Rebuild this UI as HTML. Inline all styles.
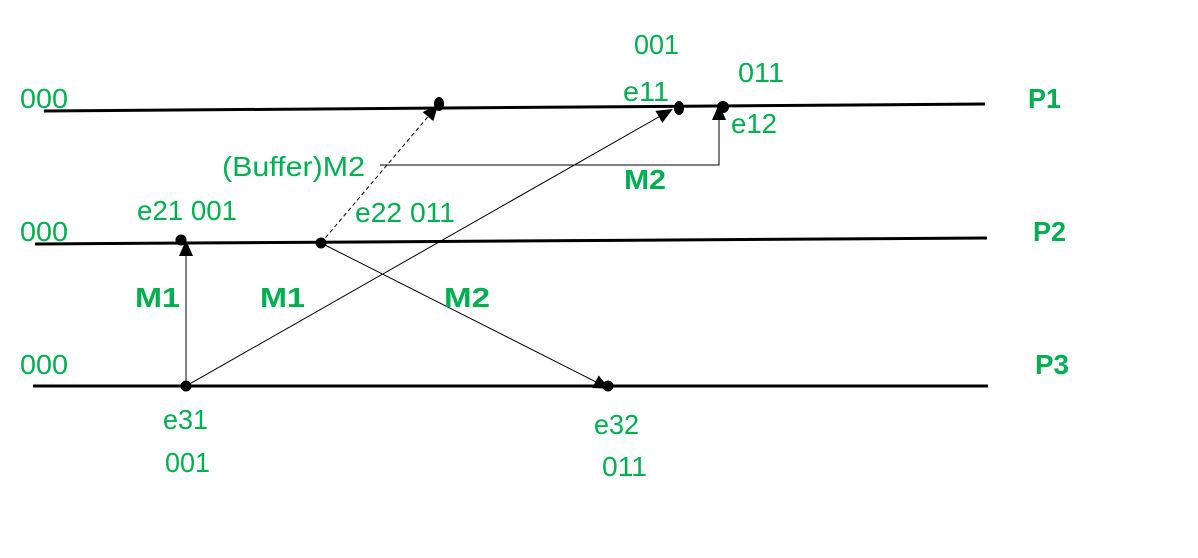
<!DOCTYPE html>
<html><head><meta charset="utf-8"><style>html,body{margin:0;padding:0;background:#fff;}svg{display:block}</style></head>
<body>
<svg width="1198" height="558" viewBox="0 0 1198 558" xmlns="http://www.w3.org/2000/svg">
<defs>
<marker id="ahb" markerWidth="16" markerHeight="14" refX="14" refY="7" orient="auto" markerUnits="userSpaceOnUse" viewBox="0 0 16 14">
<path d="M0,0 L16,7 L0,14 z" fill="#000"/>
</marker>
</defs>
<g stroke="#000" stroke-width="3" fill="none">
<line x1="44" y1="111" x2="985" y2="104"/>
<line x1="35" y1="244" x2="987" y2="238"/>
<line x1="33" y1="386" x2="988" y2="386"/>
</g>
<g stroke="#000" stroke-width="1" fill="none">
<line x1="186" y1="386" x2="186" y2="242" marker-end="url(#ahb)"/>
<line x1="186" y1="386" x2="671" y2="110" marker-end="url(#ahb)"/>
<line x1="321" y1="243" x2="608" y2="388" marker-end="url(#ahb)"/>
<line x1="321" y1="243" x2="437" y2="106" stroke-dasharray="4,3" marker-end="url(#ahb)"/>
<polyline points="380,165 719,165 719,106" marker-end="url(#ahb)"/>
</g>
<g fill="#000">
<ellipse cx="439" cy="104" rx="5" ry="7"/>
<ellipse cx="679" cy="108" rx="5" ry="7"/>
<ellipse cx="723" cy="107" rx="6" ry="6"/>
<circle cx="181" cy="240" r="5.5"/>
<circle cx="321" cy="243" r="5.5"/>
<circle cx="186" cy="386" r="5.5"/>
<circle cx="608" cy="386" r="5.5"/>
</g>
<g fill="#00b050" font-family="Liberation Sans, sans-serif" font-size="28" lengthAdjust="spacingAndGlyphs">
<text x="634" y="54" textLength="45" lengthAdjust="spacingAndGlyphs">001</text>
<text x="738" y="82" textLength="46" lengthAdjust="spacingAndGlyphs">011</text>
<text x="20" y="108" textLength="48" lengthAdjust="spacingAndGlyphs">000</text>
<text x="623" y="101" textLength="46" lengthAdjust="spacingAndGlyphs">e11</text>
<text x="731" y="133" textLength="46" lengthAdjust="spacingAndGlyphs">e12</text>
<text x="222" y="176" textLength="143" lengthAdjust="spacingAndGlyphs">(Buffer)M2</text>
<text x="137" y="220" textLength="100" lengthAdjust="spacingAndGlyphs">e21 001</text>
<text x="355" y="222" textLength="100" lengthAdjust="spacingAndGlyphs">e22 011</text>
<text x="20" y="241" textLength="48" lengthAdjust="spacingAndGlyphs">000</text>
<text x="20" y="374" textLength="48" lengthAdjust="spacingAndGlyphs">000</text>
<text x="163" y="429" textLength="45" lengthAdjust="spacingAndGlyphs">e31</text>
<text x="165" y="472" textLength="45" lengthAdjust="spacingAndGlyphs">001</text>
<text x="594" y="434" textLength="45" lengthAdjust="spacingAndGlyphs">e32</text>
<text x="602" y="476" textLength="45" lengthAdjust="spacingAndGlyphs">011</text>
</g>
<g fill="#00b050" font-family="Liberation Sans, sans-serif" font-size="28" font-weight="bold">
<text x="624" y="189" textLength="42" lengthAdjust="spacingAndGlyphs">M2</text>
<text x="1028" y="108" textLength="33" lengthAdjust="spacingAndGlyphs">P1</text>
<text x="1033" y="241" textLength="33" lengthAdjust="spacingAndGlyphs">P2</text>
<text x="1035" y="374" textLength="34" lengthAdjust="spacingAndGlyphs">P3</text>
<text x="135" y="307" textLength="45" lengthAdjust="spacingAndGlyphs">M1</text>
<text x="260" y="307" textLength="45" lengthAdjust="spacingAndGlyphs">M1</text>
<text x="444" y="307" textLength="46" lengthAdjust="spacingAndGlyphs">M2</text>
</g>
</svg>
</body></html>
